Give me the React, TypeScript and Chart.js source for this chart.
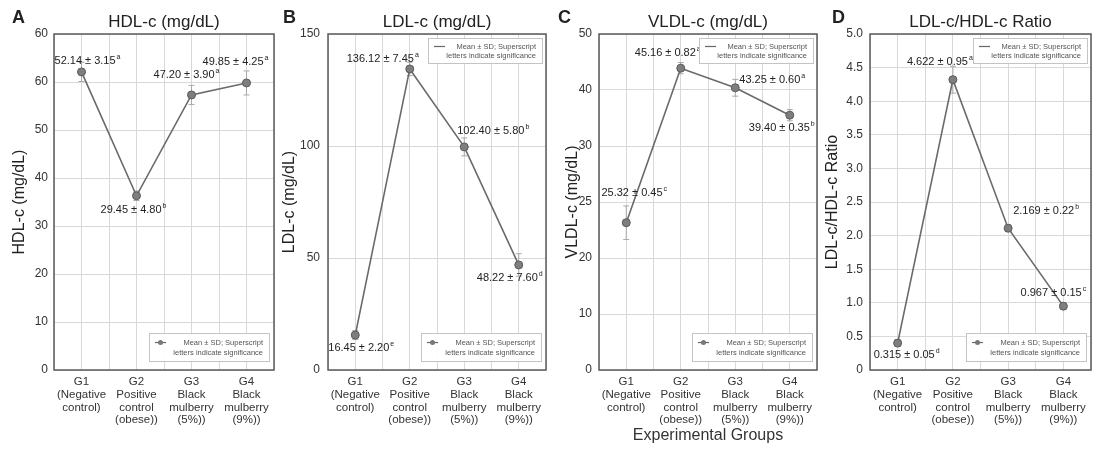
import React, { useEffect, useRef } from "react";
import { Chart, registerables } from "chart.js";

Chart.register(...registerables);

// ---------- data ----------
const groupPositions = [1, 2, 3, 4];
const groupTickLabels = [
  ["G1", "(Negative", "control)"],
  ["G2", "Positive", "control", "(obese))"],
  ["G3", "Black", "mulberry", "(5%))"],
  ["G4", "Black", "mulberry", "(9%))"],
];

const hdlMeans = [62.1, 36.3, 57.3, 59.8];
const hdlErrors = [2, 1, 2, 2.5];
const hdlTexts = ["52.14 ± 3.15", "29.45 ± 4.80", "47.20 ± 3.90", "49.85 ± 4.25"];
const hdlLetters = ["a", "b", "a", "a"];
const hdlYTicks = ["0", "10", "20", "30", "40", "50", "60", "60"];

const ldlMeans = [15.6, 134.4, 99.6, 46.9];
const ldlErrors = [2, 3, 4, 5];
const ldlTexts = ["16.45 ± 2.20", "136.12 ± 7.45", "102.40 ± 5.80", "48.22 ± 7.60"];
const ldlLetters = ["e", "a", "b", "d"];
const ldlYTicks = ["0", "50", "100", "150"];

const vldlMeans = [26.3, 53.9, 50.4, 45.5];
const vldlErrors = [3, 1, 1.5, 1];
const vldlTexts = ["25.32 ± 0.45", "45.16 ± 0.82", "43.25 ± 0.60", "39.40 ± 0.35"];
const vldlLetters = ["c", "a", "a", "b"];
const vldlYTicks = ["0", "10", "20", "25", "30", "40", "50"];

const ratioMeans = [0.4, 4.32, 2.11, 0.95];
const ratioErrors = [0.05, 0.2, 0.05, 0.05];
const ratioTexts = ["0.315 ± 0.05", "4.622 ± 0.95", "2.169 ± 0.22", "0.967 ± 0.15"];
const ratioLetters = ["d", "a", "b", "c"];
const ratioYTicks = ["0", "0.5", "1.0", "1.5", "2.0", "2.5", "3.0", "3.5", "4.0", "4.5", "5.0"];

const legendLine1 = "Mean ± SD; Superscript";
const legendLine2 = "letters indicate significance";

// ---------- layout / style ----------
const FONT = "'Liberation Sans', Arial, Helvetica, sans-serif";
const H = 453;

type PanelCfg = {
  letter: string;
  title: string;
  yTitle: string;
  means: number[];
  errors: number[];
  texts: string[];
  letters: string[];
  yTicks: string[];
  yMax: number;
  yStep: number;
  left: number;
  width: number;
  plotLeft: number;
  padRight: number;
  yTitlePad: number;
  yTickPad: number;
  letterX: number;
  offsets: [number, number][];
  topLegend: boolean;
  xTitle?: string;
};

const panels: PanelCfg[] = [
  {
    letter: "A", title: "HDL-c (mg/dL)", yTitle: "HDL-c (mg/dL)",
    means: hdlMeans, errors: hdlErrors, texts: hdlTexts, letters: hdlLetters,
    yTicks: hdlYTicks, yMax: 70, yStep: 10,
    left: 0, width: 280, plotLeft: 54, padRight: 3, yTitlePad: 10, yTickPad: 6, letterX: 12,
    offsets: [[6, -11], [-3, 14], [-5, -20], [-11, -21]], topLegend: false,
  },
  {
    letter: "B", title: "LDL-c (mg/dL)", yTitle: "LDL-c (mg/dL)",
    means: ldlMeans, errors: ldlErrors, texts: ldlTexts, letters: ldlLetters,
    yTicks: ldlYTicks, yMax: 150, yStep: 50,
    left: 280, width: 272, plotLeft: 48, padRight: 5, yTitlePad: 0, yTickPad: 8, letterX: 3,
    offsets: [[6, 13], [-27, -10], [29, -16], [-9, 13]], topLegend: true,
  },
  {
    letter: "C", title: "VLDL-c (mg/dL)", yTitle: "VLDL-c (mg/dL)",
    means: vldlMeans, errors: vldlErrors, texts: vldlTexts, letters: vldlLetters,
    yTicks: vldlYTicks, yMax: 60, yStep: 10,
    left: 552, width: 271, plotLeft: 47, padRight: 5, yTitlePad: 11, yTickPad: 7, letterX: 6,
    offsets: [[8, -30], [-13, -15], [37, -8], [-8, 13]], topLegend: true,
    xTitle: "Experimental Groups",
  },
  {
    letter: "D", title: "LDL-c/HDL-c Ratio", yTitle: "LDL-c/HDL-c Ratio",
    means: ratioMeans, errors: ratioErrors, texts: ratioTexts, letters: ratioLetters,
    yTicks: ratioYTicks, yMax: 5, yStep: 0.5,
    left: 823, width: 274, plotLeft: 47, padRight: 5, yTitlePad: 0, yTickPad: 7, letterX: 9,
    offsets: [[9, 12], [-13, -18], [38, -17], [-10, -13]], topLegend: true,
  },
];

const PLOT_TOP = 34;
const PLOT_BOTTOM = 370;

function drawLegend(ctx: CanvasRenderingContext2D, right: number, top: number, w: number, h: number, marker: "line" | "point") {
  const x = right - w;
  ctx.save();
  ctx.fillStyle = "rgba(255,255,255,0.9)";
  ctx.fillRect(x, top, w, h);
  ctx.strokeStyle = "#c4c4c4";
  ctx.lineWidth = 1;
  ctx.strokeRect(x + 0.5, top + 0.5, w, h);
  const l1 = top + h * 0.34;
  const l2 = top + h * 0.72;
  ctx.strokeStyle = "#666";
  ctx.lineWidth = 1.2;
  ctx.beginPath();
  ctx.moveTo(x + 6, l1);
  ctx.lineTo(x + 17, l1);
  ctx.stroke();
  if (marker === "point") {
    ctx.fillStyle = "#777";
    ctx.beginPath();
    ctx.arc(x + 11.5, l1, 2.5, 0, Math.PI * 2);
    ctx.fill();
  }
  ctx.fillStyle = "#555";
  ctx.font = `7.5px ${FONT}`;
  ctx.textAlign = "right";
  ctx.textBaseline = "middle";
  ctx.fillText(legendLine1, x + w - 6, l1);
  ctx.fillText(legendLine2, x + w - 6, l2);
  ctx.restore();
}

function overlayPlugin(cfg: PanelCfg) {
  return {
    id: "overlay" + cfg.letter,
    beforeDatasetsDraw(chart: any) {
      const ctx: CanvasRenderingContext2D = chart.ctx;
      const ys = chart.scales.y;
      const meta = chart.getDatasetMeta(0);
      ctx.save();
      ctx.strokeStyle = "#a8a8a8";
      ctx.lineWidth = 1;
      meta.data.forEach((pt: any, i: number) => {
        const yt = ys.getPixelForValue(cfg.means[i] + cfg.errors[i]);
        const yb = ys.getPixelForValue(cfg.means[i] - cfg.errors[i]);
        ctx.beginPath();
        ctx.moveTo(pt.x, yt);
        ctx.lineTo(pt.x, yb);
        ctx.moveTo(pt.x - 3, yt);
        ctx.lineTo(pt.x + 3, yt);
        ctx.moveTo(pt.x - 3, yb);
        ctx.lineTo(pt.x + 3, yb);
        ctx.stroke();
      });
      ctx.restore();
    },
    afterDraw(chart: any) {
      const ctx: CanvasRenderingContext2D = chart.ctx;
      const a = chart.chartArea;
      ctx.save();
      // plot frame
      ctx.strokeStyle = "#5a5a5a";
      ctx.lineWidth = 1.5;
      ctx.strokeRect(a.left, a.top, a.right - a.left, a.bottom - a.top);
      // title
      ctx.fillStyle = "#222";
      ctx.font = `17px ${FONT}`;
      ctx.textAlign = "center";
      ctx.textBaseline = "middle";
      ctx.fillText(cfg.title, (a.left + a.right) / 2, 22);
      // panel letter
      ctx.font = `bold 18px ${FONT}`;
      ctx.textAlign = "left";
      ctx.fillText(cfg.letter, cfg.letterX, 18);
      // value annotations
      const meta = chart.getDatasetMeta(0);
      meta.data.forEach((pt: any, i: number) => {
        const [dx, dy] = cfg.offsets[i];
        ctx.font = `11px ${FONT}`;
        const w1 = ctx.measureText(cfg.texts[i]).width;
        ctx.font = `7px ${FONT}`;
        const w2 = ctx.measureText(cfg.letters[i]).width;
        const sx = pt.x + dx - (w1 + w2 + 1) / 2;
        const cy = pt.y + dy;
        ctx.fillStyle = "#222";
        ctx.textAlign = "left";
        ctx.textBaseline = "middle";
        ctx.font = `11px ${FONT}`;
        ctx.fillText(cfg.texts[i], sx, cy);
        ctx.font = `7px ${FONT}`;
        ctx.fillText(cfg.letters[i], sx + w1 + 1, cy - 4);
      });
      ctx.restore();
      // legends
      drawLegend(ctx, a.right - 5, a.bottom - 37, 120, 28, "point");
      if (cfg.topLegend) drawLegend(ctx, a.right - 4, a.top + 4, 114, 25, "line");
    },
  };
}

function Panel({ cfg }: { cfg: PanelCfg }) {
  const ref = useRef<HTMLCanvasElement | null>(null);
  useEffect(() => {
    if (!ref.current) return;
    const chart = new Chart(ref.current, {
      type: "line",
      data: {
        datasets: [
          {
            label: cfg.title,
            data: groupPositions.map((x, i) => ({ x, y: cfg.means[i] })),
            borderColor: "#6a6a6a",
            borderWidth: 1.6,
            pointRadius: 4,
            pointBackgroundColor: "#7e7e7e",
            pointBorderColor: "#5a5a5a",
            pointBorderWidth: 1,
            tension: 0,
          },
        ],
      },
      options: {
        animation: false,
        responsive: false,
        maintainAspectRatio: false,
        layout: { padding: { left: 0, right: cfg.padRight, top: PLOT_TOP, bottom: 0 } },
        plugins: { legend: { display: false }, tooltip: { enabled: false }, title: { display: false } },
        scales: {
          x: {
            type: "linear",
            min: 0.5,
            max: 4.5,
            afterFit: (s: any) => { s.height = H - PLOT_BOTTOM; },
            border: { display: false },
            grid: { color: "#d9d9d9", lineWidth: 1, drawTicks: false },
            ticks: {
              stepSize: 0.5,
              autoSkip: false,
              maxRotation: 0,
              minRotation: 0,
              padding: 6,
              color: "#333",
              font: { family: FONT, size: 11.5, lineHeight: 1.1 },
              callback: (v: any) => (Number.isInteger(v) ? groupTickLabels[v - 1] : ""),
            },
            title: cfg.xTitle
              ? { display: true, text: cfg.xTitle, color: "#333", font: { family: FONT, size: 16 }, padding: { top: 0, bottom: 8 } }
              : { display: false },
          },
          y: {
            type: "linear",
            min: 0,
            max: cfg.yMax,
            afterFit: (s: any) => { s.width = cfg.plotLeft; },
            border: { display: false },
            grid: { color: "#d9d9d9", lineWidth: 1, drawTicks: false },
            ticks: {
              stepSize: cfg.yStep,
              autoSkip: false,
              padding: cfg.yTickPad,
              color: "#333",
              font: { family: FONT, size: 12 },
              callback: (_v: any, i: number) => cfg.yTicks[i],
            },
            title: {
              display: true,
              text: cfg.yTitle,
              color: "#222",
              font: { family: FONT, size: 16 },
              padding: { top: cfg.yTitlePad, bottom: 0 },
            },
          },
        },
      },
      plugins: [overlayPlugin(cfg)],
    } as any);
    return () => chart.destroy();
  }, [cfg]);
  return (
    <canvas
      ref={ref}
      width={cfg.width}
      height={H}
      style={{ position: "absolute", left: cfg.left, top: 0, width: cfg.width, height: H }}
    />
  );
}

export default function App() {
  return (
    <div style={{ position: "absolute", left: 0, top: 0, width: 1097, height: H, background: "#fff", overflow: "hidden" }}>
      {panels.map((p) => (
        <Panel key={p.letter} cfg={p} />
      ))}
    </div>
  );
}
